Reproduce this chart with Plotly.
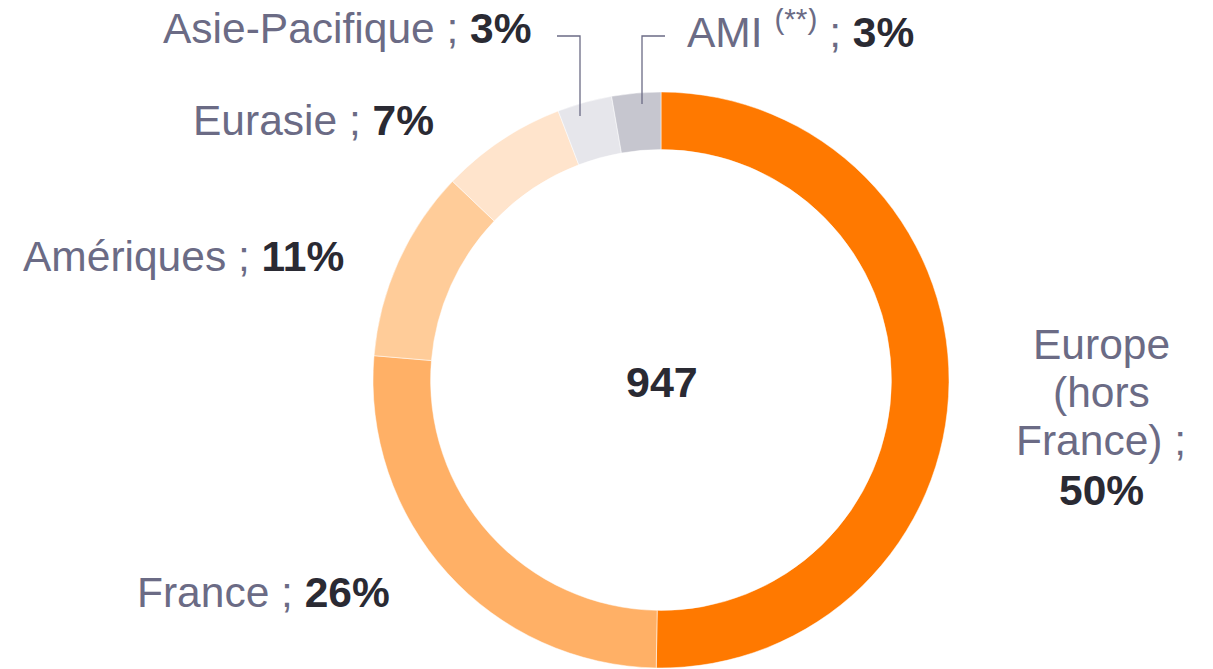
import plotly.graph_objects as go

regions = ["Europe (hors France)", "France", "Amériques", "Eurasie", "Asie-Pacifique", "AMI"]
values = [476, 247, 102, 67, 29, 26]
pct_labels = ["50%", "26%", "11%", "7%", "3%", "3%"]
colors = ["#FF7900", "#FFB066", "#FFCC99", "#FFE4CC", "#E6E6EB", "#C6C6CF"]
europe_lines = ["Europe", "(hors", "France) ;"]
total_label = "947"

W, H = 1213, 669
GREY = "#6B6B85"
DARK = "#2A2A33"
FONT = "Liberation Sans"
DY = -9  # vertical correction for middle anchoring
DX = -7  # horizontal correction for annotation padding

def px(x):
    return x / W

def tx(x):
    return (x + DX) / W

def py(y):
    return 1 - (y + DY) / H

def pyd(y):
    return 1 - y / H

fig = go.Figure()
fig.add_trace(go.Pie(
    labels=regions,
    values=values,
    hole=0.8,
    sort=False,
    direction="clockwise",
    rotation=0,
    textinfo="none",
    marker=dict(colors=colors, line=dict(color="white", width=0.5)),
    domain=dict(x=[px(365), px(941)], y=[pyd(660), pyd(84)]),
    showlegend=False,
    hoverinfo="label+percent",
))

FS = 42.5

def lab(name, pct):
    return f"<span style='color:{GREY}'>{name} ; </span><b style='color:{DARK}'>{pct}</b>"

annotations = [
    dict(x=tx(533), y=py(30), xanchor="right", yanchor="middle",
         text=lab(regions[4], pct_labels[4])),
    dict(x=tx(684), y=py(30), xanchor="left", yanchor="middle",
         text=f"<span style='color:{GREY}'>{regions[5]} <sup>(**)</sup> ; </span><b style='color:{DARK}'>{pct_labels[5]}</b>"),
    dict(x=tx(435), y=py(122), xanchor="right", yanchor="middle",
         text=lab(regions[3], pct_labels[3])),
    dict(x=tx(345), y=py(257), xanchor="right", yanchor="middle",
         text=lab(regions[2], pct_labels[2])),
    dict(x=tx(391), y=py(593), xanchor="right", yanchor="middle",
         text=lab(regions[1], pct_labels[1])),
    dict(x=tx(1100), y=py(345), xanchor="center", yanchor="middle",
         text=f"<span style='color:{GREY}'>{europe_lines[0]}</span>"),
    dict(x=tx(1100), y=py(393), xanchor="center", yanchor="middle",
         text=f"<span style='color:{GREY}'>{europe_lines[1]}</span>"),
    dict(x=tx(1100), y=py(441), xanchor="center", yanchor="middle",
         text=f"<span style='color:{GREY}'>{europe_lines[2]}</span>"),
    dict(x=tx(1100), y=py(491), xanchor="center", yanchor="middle",
         text=f"<b style='color:{DARK}'>{pct_labels[0]}</b>"),
    dict(x=tx(661), y=py(383), xanchor="center", yanchor="middle",
         text=f"<b style='color:{DARK}'>{total_label}</b>", font=dict(size=43)),
]
for a in annotations:
    a.setdefault("font", dict(size=FS))
    a["font"].setdefault("family", FONT)
    a["font"].setdefault("size", FS)
    a["xref"] = "paper"
    a["yref"] = "paper"
    a["showarrow"] = False

line_style = dict(color=GREY, width=1.3)
shapes = [
    dict(type="path", xref="paper", yref="paper",
         path=f"M {px(549)},{pyd(28)} L {px(572)},{pyd(28)} L {px(572)},{pyd(108)}", line=line_style),
    dict(type="path", xref="paper", yref="paper",
         path=f"M {px(657)},{pyd(28)} L {px(634)},{pyd(28)} L {px(634)},{pyd(96)}", line=line_style),
]

fig.update_layout(
    width=W, height=H,
    margin=dict(l=0, r=0, t=0, b=0),
    paper_bgcolor="white",
    plot_bgcolor="white",
    annotations=annotations,
    shapes=shapes,
    font=dict(family=FONT),
)

fig.write_html("out.html")
